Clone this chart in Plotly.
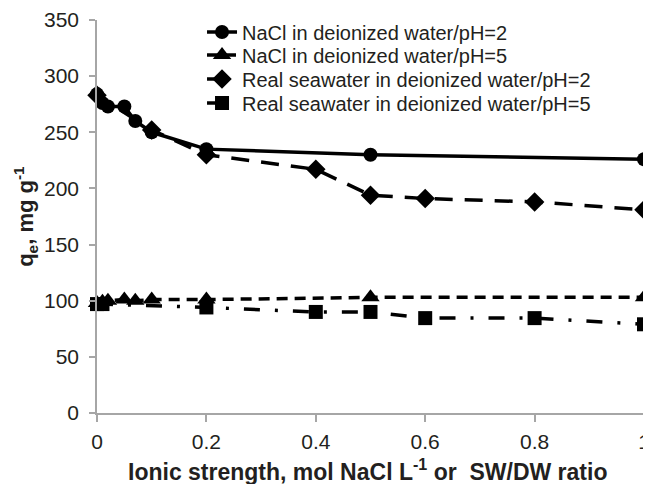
import plotly.graph_objects as go

# Data
x_nacl = [0, 0.01, 0.02, 0.05, 0.07, 0.1, 0.2, 0.5, 1.0]
y_nacl_ph2 = [284, 276, 273, 273, 260, 250, 235, 230, 226]
y_nacl_ph5 = [98, 99, 100, 101, 100, 101, 101, 103, 103]

x_sw_ph2 = [0, 0.1, 0.2, 0.4, 0.5, 0.6, 0.8, 1.0]
y_sw_ph2 = [283, 252, 230, 217, 194, 191, 188, 181]

x_sw_ph5 = [0, 0.01, 0.2, 0.4, 0.5, 0.6, 0.8, 1.0]
y_sw_ph5 = [97, 97, 94, 90, 90, 84.5, 84.5, 79]

names = [
    "NaCl in deionized water/pH=2",
    "NaCl in deionized water/pH=5",
    "Real seawater in deionized water/pH=2",
    "Real seawater in deionized water/pH=5",
]

x_ticks = [0, 0.2, 0.4, 0.6, 0.8, 1]
x_ticktext = ["0", "0.2", "0.4", "0.6", "0.8", "1"]
y_ticks = [0, 50, 100, 150, 200, 250, 300, 350]

x_title = "<b>Ionic strength, mol NaCl L<sup>-1</sup> or  SW/DW ratio</b>"
y_title = "<b>q<sub>e</sub>, mg g<sup>-1</sup></b>"

FONT = "Liberation Sans, Arial, sans-serif"
TXT = "#231f20"
AX = "#a6a6a6"

legend_ids = ["legend", "legend2", "legend3", "legend4"]
legend_rows = [0.9695, 0.911, 0.850, 0.789]  # paper y of each legend row

fig = go.Figure()
fig.add_trace(go.Scatter(x=x_nacl, y=y_nacl_ph2, name=names[0], mode="lines+markers",
                         line=dict(color="black", width=3.5),
                         marker=dict(symbol="circle", size=14, color="black"),
                         cliponaxis=False, legend=legend_ids[0]))
fig.add_trace(go.Scatter(x=x_nacl, y=y_nacl_ph5, name=names[1], mode="lines+markers",
                         line=dict(color="black", width=3.5, dash="11px,7px"),
                         marker=dict(symbol="triangle-up", size=16, color="black"),
                         cliponaxis=False, legend=legend_ids[1]))
fig.add_trace(go.Scatter(x=x_sw_ph2, y=y_sw_ph2, name=names[2], mode="lines+markers",
                         line=dict(color="black", width=3.5, dash="18px,12px"),
                         marker=dict(symbol="diamond", size=15, color="black"),
                         cliponaxis=False, legend=legend_ids[2]))
fig.add_trace(go.Scatter(x=x_sw_ph5, y=y_sw_ph5, name=names[3], mode="lines+markers",
                         line=dict(color="black", width=3.5, dash="16px,15px,3px,15px"),
                         marker=dict(symbol="square", size=14, color="black"),
                         cliponaxis=False, legend=legend_ids[3]))

legend_style = dict(x=0.192, xanchor="left", yanchor="middle",
                    bgcolor="rgba(0,0,0,0)", font=dict(family=FONT, size=20, color=TXT),
                    itemwidth=30)
legends = {lid: dict(legend_style, y=ly) for lid, ly in zip(legend_ids, legend_rows)}

# the page body adds an 8px offset, so the figure is 8px smaller and margins shifted
fig.update_layout(
    width=643, height=476,
    margin=dict(l=89, r=7, t=12, b=71, autoexpand=False),
    paper_bgcolor="white", plot_bgcolor="white",
    font=dict(family=FONT, size=18, color=TXT),
    showlegend=True,
    annotations=[
        dict(text=x_title, xref="paper", yref="paper", x=0.494, y=-0.145,
             xanchor="center", yanchor="middle", showarrow=False,
             font=dict(family=FONT, size=23, color=TXT)),
        dict(text=y_title, xref="paper", yref="paper", x=-0.131, y=0.5,
             xanchor="center", yanchor="middle", showarrow=False, textangle=-90,
             font=dict(family=FONT, size=22, color=TXT)),
    ],
    **legends,
)
fig.update_xaxes(
    range=[0, 1], tickvals=x_ticks, ticktext=x_ticktext, automargin=False,
    showgrid=False, zeroline=False, showline=True, linecolor=AX, linewidth=1.5,
    ticks="outside", ticklen=7, tickcolor=AX, tickwidth=1.5,
    tickfont=dict(size=21, color=TXT), ticklabelstandoff=2, ticklabeloverflow="allow",
)
fig.update_yaxes(
    range=[0, 350], tickvals=y_ticks, automargin=False,
    showgrid=False, zeroline=False, showline=True, linecolor=AX, linewidth=1.5,
    ticks="outside", ticklen=6, tickcolor=AX, tickwidth=1.5,
    tickfont=dict(size=21, color=TXT), ticklabelstandoff=6, ticklabeloverflow="allow",
)

fig.write_html("out.html")
